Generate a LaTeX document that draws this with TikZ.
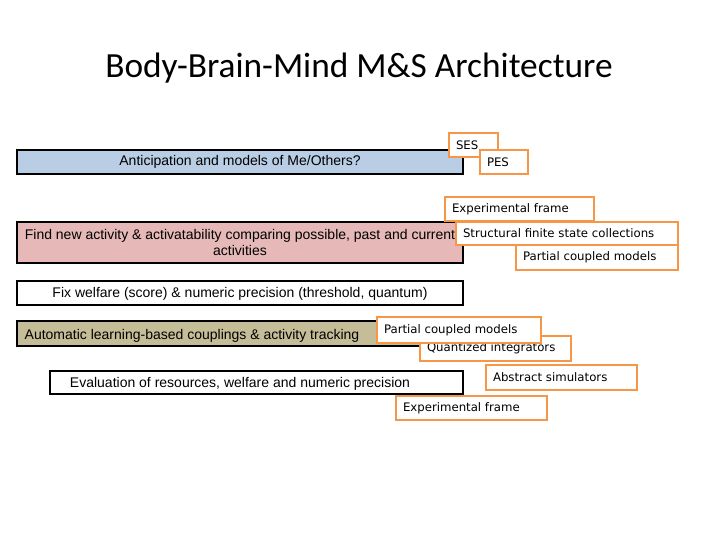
\documentclass[tikz,border=0pt]{standalone}
\usepackage{fontspec}
\setmainfont{Liberation Sans}
\newfontfamily\titlefont{Carlito}
\newfontfamily\gfont{DejaVu Sans}
\usetikzlibrary{fit}
\definecolor{ob}{HTML}{F79646}
\definecolor{bl}{HTML}{B9CDE5}
\definecolor{pk}{HTML}{E6B9B8}
\definecolor{tn}{HTML}{C4BD97}
\begin{document}
\begin{tikzpicture}[x=0.75pt,y=-0.75pt,
  mbox/.style={draw=black,line width=2.2pt,inner sep=0pt},
  mt/.style={font=\fontsize{10.5}{12}\selectfont,align=center,inner sep=0pt},
  obox/.style={draw=ob,fill=white,line width=1.9pt,inner sep=0pt},
  olab/.style={anchor=west,inner sep=0pt,xshift=6pt,font=\gfont\fontsize{8.8}{10}\selectfont}]
\useasboundingbox (0,0) rectangle (720,540);
\node[font=\titlefont\fontsize{26.5}{30}\selectfont] (title) at (359,68) {Body-Brain-Mind M\&S Architecture};
% main boxes
\node[mbox,fill=bl,fit={(17,150)(463,174)}] (b1) {};
\node[mt] at (240,162) {Anticipation and models of Me/Others?};
\node[mbox,fill=pk,fit={(17,222)(463,263)}] (b2) {};
\node[mt] at (240,242) {Find new activity \& activatability comparing possible, past and current\\activities};
\node[mbox,fill=white,fit={(17,281)(463,305)}] (b3) {};
\node[mt] at (240,294) {Fix welfare (score) \& numeric precision (threshold, quantum)};
\node[mbox,fill=tn,fit={(17,321)(425,346)}] (b4) {};
\node[mt] at (192,336) {Automatic learning-based couplings \& activity tracking};
\node[mbox,fill=white,fit={(50,371)(463,394)}] (b5) {};
\node[mt] at (240,384) {Evaluation of resources, welfare and numeric precision};
% orange boxes
\node[obox,fit={(449,133)(498,157)},label={[olab]west:SES}] (o1) {};
\node[obox,fit={(480,150)(528,174)},label={[olab]west:PES}] (o2) {};
\node[obox,fit={(445,197)(594,221)},label={[olab]west:Experimental frame}] (o3) {};
\node[obox,fit={(516,245)(678,270)},label={[olab]west:Partial coupled models}] (o5) {};
\node[obox,fit={(456,222)(678,245)},label={[olab]west:Structural finite state collections}] (o4) {};
\node[obox,fit={(420,336)(571,361)},label={[olab]west:Quantized integrators}] (o7) {};
\node[obox,fit={(377,317)(541,343)},label={[olab]west:Partial coupled models}] (o6) {};
\node[obox,fit={(486,365)(637,390)},label={[olab]west:Abstract simulators}] (o8) {};
\node[obox,fit={(396,396)(547,420)},label={[olab]west:Experimental frame}] (o9) {};
\end{tikzpicture}
\end{document}
